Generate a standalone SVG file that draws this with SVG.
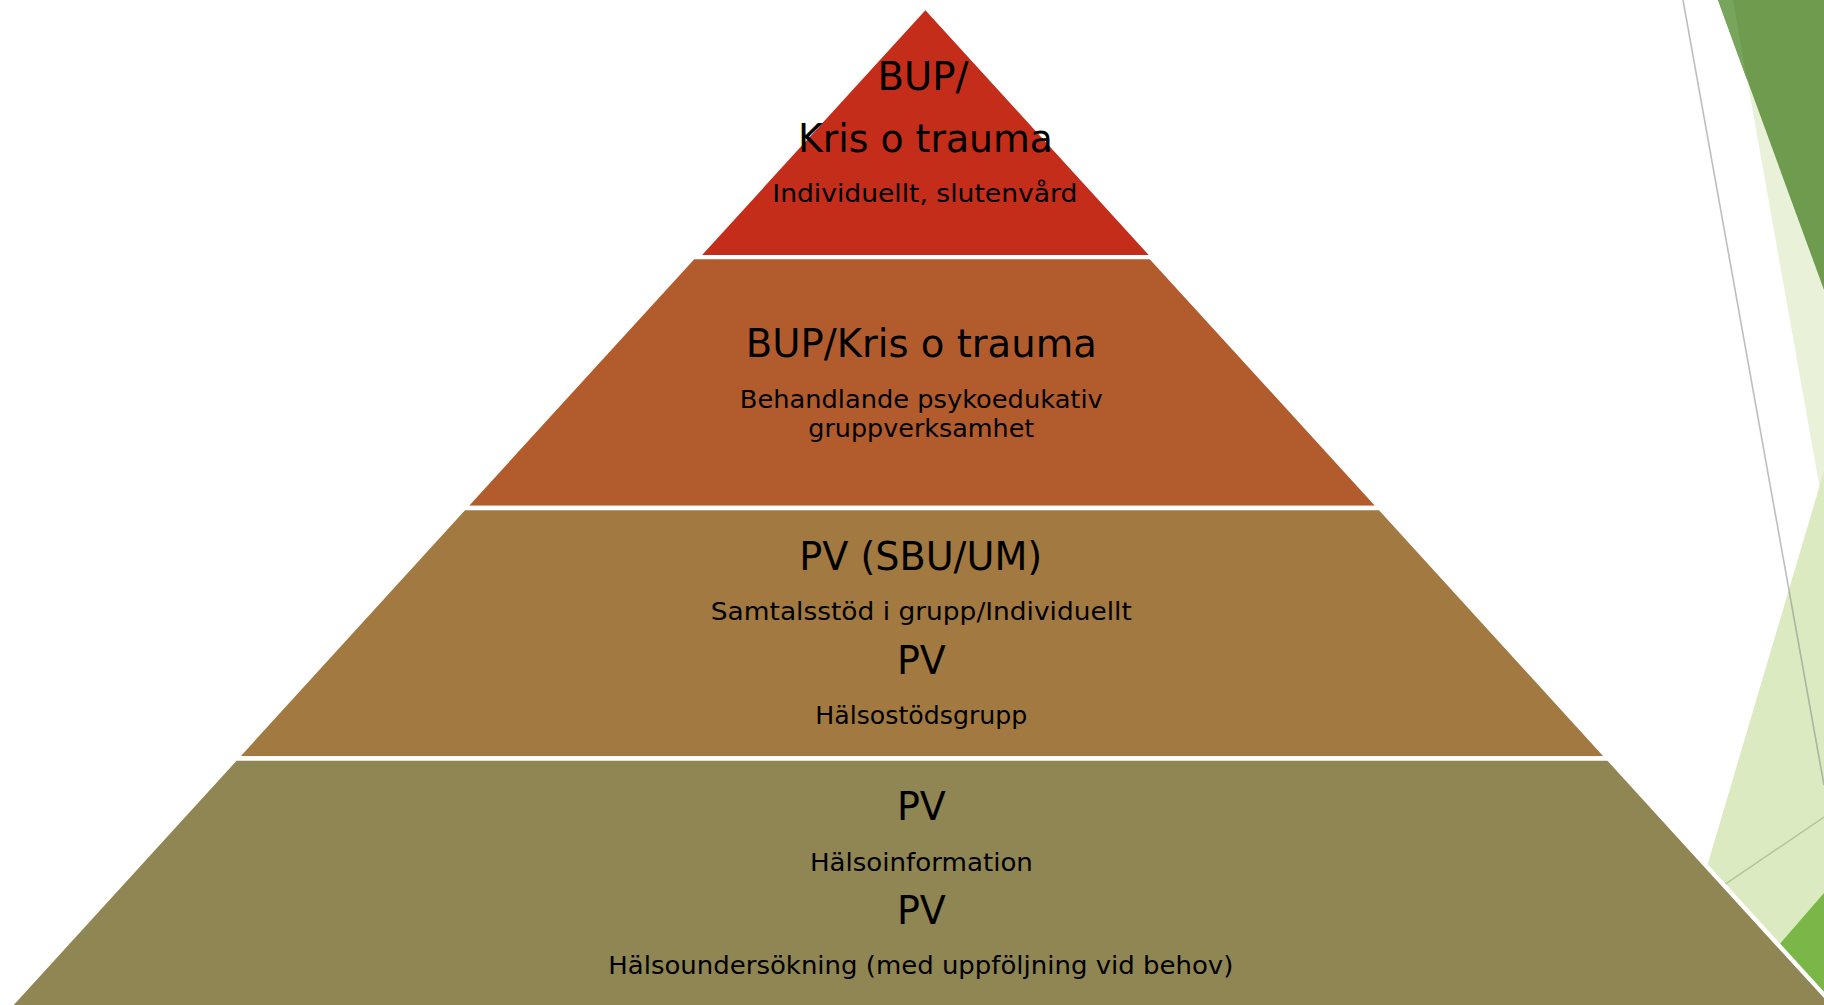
<svg xmlns="http://www.w3.org/2000/svg" width="1824" height="1005" viewBox="0 0 1824 1005">
  <style>
    .tier { stroke: #FFFFFF; stroke-width: 4.3; stroke-linejoin: miter; }
    .big { font-family: "DejaVu Sans", "Liberation Sans", sans-serif; font-size: 39px; fill: #000000; text-anchor: middle; }
    .small { font-family: "DejaVu Sans", "Liberation Sans", sans-serif; font-size: 25px; fill: #000000; text-anchor: middle; }
  </style>
  <rect x="0" y="0" width="1824" height="1005" fill="#FFFFFF"/>

  <g id="decoration">
    <polygon points="1733,0 1824,0 1824,512" fill="#E9F2D9"/>
    <polygon points="1824,471 1824,1005 1666,1005" fill="#DCEAC2"/>
    <polygon points="1718,0 1824,0 1824,290" fill="#6F9B4F"/>
    <polygon points="1718,0 1733,0 1747,80" fill="#78A55C"/>
    <polygon points="1824,893 1824,1005 1727,1005" fill="#7AB648"/>
    <line x1="1700" y1="901.4" x2="1824" y2="817" stroke="#A9BD90" stroke-width="1.5" opacity="0.8"/>
    <line x1="1683" y1="0" x2="1824" y2="785" stroke="#7F7F7F" stroke-width="1.6" opacity="0.5"/>
  </g>

  <g id="connectors"></g>

  <g id="tier1">
    <polygon class="tier" points="925.4,7 1153.6,257.2 697.2,257.2" fill="#C42D1A"/>
    <text class="big" x="923" y="90" font-size="40" textLength="91" lengthAdjust="spacingAndGlyphs">BUP/</text>
    <text class="big" x="925.5" y="152" font-size="40" textLength="255" lengthAdjust="spacingAndGlyphs">Kris o trauma</text>
    <text class="small" x="924.8" y="201.5" font-size="26" textLength="305" lengthAdjust="spacingAndGlyphs">Individuellt, slutenvård</text>
  </g>

  <g id="tier2">
    <polygon class="tier" points="693.1,257.2 1150.9,257.2 1379.9,508 464.1,508" fill="#B25C2E"/>
    <text class="big" x="921.3" y="356.5" textLength="351" lengthAdjust="spacingAndGlyphs">BUP/Kris o trauma</text>
    <text class="small" x="921.3" y="408" textLength="363" lengthAdjust="spacingAndGlyphs">Behandlande psykoedukativ</text>
    <text class="small" x="921.3" y="437" textLength="226" lengthAdjust="spacingAndGlyphs">gruppverksamhet</text>
  </g>

  <g id="tier3">
    <polygon class="tier" points="464.1,508 1379.9,508 1608.3,758.5 235.7,758.5" fill="#A27941"/>
    <text class="big" x="920.7" y="570" textLength="243" lengthAdjust="spacingAndGlyphs">PV (SBU/UM)</text>
    <text class="small" x="921.3" y="620" textLength="421" lengthAdjust="spacingAndGlyphs">Samtalsstöd i grupp/Individuellt</text>
    <text class="big" x="921.4" y="673.5" textLength="49" lengthAdjust="spacingAndGlyphs">PV</text>
    <text class="small" x="921.3" y="724" textLength="212" lengthAdjust="spacingAndGlyphs">Hälsostödsgrupp</text>
  </g>

  <g id="tier4">
    <polygon class="tier" points="235.7,758.5 1608.3,758.5 1841.4,1014 2.6,1014" fill="#8F8654"/>
    <text class="big" x="921.4" y="820" textLength="49" lengthAdjust="spacingAndGlyphs">PV</text>
    <text class="small" x="921.4" y="870.7" textLength="223" lengthAdjust="spacingAndGlyphs">Hälsoinformation</text>
    <text class="big" x="921.4" y="924" textLength="49" lengthAdjust="spacingAndGlyphs">PV</text>
    <text class="small" x="920.8" y="974" textLength="625" lengthAdjust="spacingAndGlyphs">Hälsoundersökning (med uppföljning vid behov)</text>
  </g>
</svg>
